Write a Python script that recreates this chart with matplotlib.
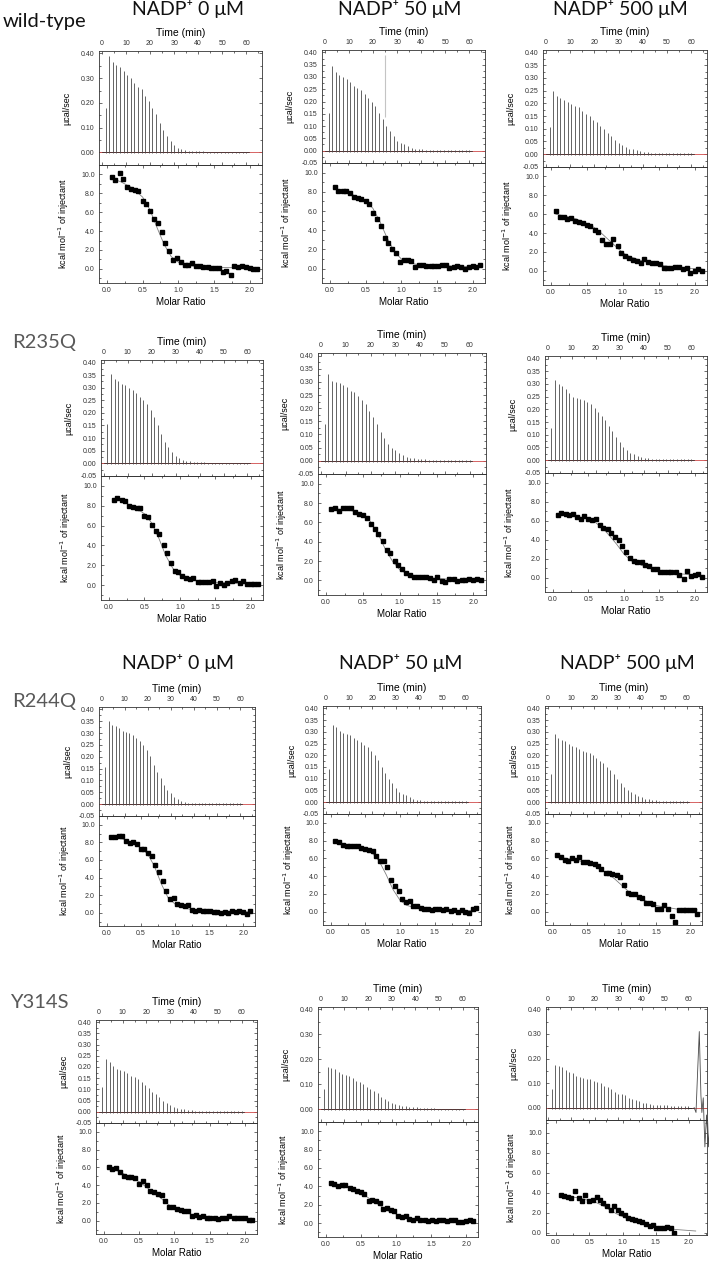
import numpy as np
import matplotlib
matplotlib.use("Agg")
import matplotlib.pyplot as plt
from matplotlib.ticker import MultipleLocator, FormatStrFormatter

plt.rcParams['font.family'] = ['Liberation Sans', 'DejaVu Sans']

W, H = 709, 1263

row_names = ["wild-type", "R235Q", "R244Q", "Y314S"]
col_titles = ["NADP\u207a 0 \u03bcM", "NADP\u207a 50 \u03bcM", "NADP\u207a 500 \u03bcM"]

# injection schedule (min) and molar ratio of each injection after the first
inj_time = np.arange(1, 41) * 1.5
molar_ratio = [0.07, 0.12, 0.18, 0.23, 0.28, 0.34, 0.39, 0.44, 0.50, 0.55,
               0.61, 0.66, 0.71, 0.77, 0.82, 0.87, 0.93, 0.98, 1.03, 1.09,
               1.14, 1.19, 1.25, 1.30, 1.35, 1.41, 1.46, 1.51, 1.57, 1.62,
               1.67, 1.73, 1.78, 1.84, 1.89, 1.94, 2.00, 2.05, 2.10]
fit_ratio = [0.07, 0.2, 0.35, 0.5, 0.6, 0.7, 0.8, 0.9, 1.0, 1.1, 1.25, 1.5, 1.8, 2.1]

# ---- raw heat peaks (ucal/sec)
peaks_wt_0 = [0.18, 0.39, 0.365, 0.355, 0.345, 0.33, 0.315, 0.30, 0.28, 0.265,
              0.255, 0.23, 0.21, 0.18, 0.155, 0.12, 0.09, 0.065, 0.045, 0.03,
              0.02, 0.014, 0.01, 0.008, 0.007, 0.006, 0.005, 0.005, 0.004, 0.004,
              0.004, 0.003, 0.003, 0.003, 0.003, 0.003, 0.003, 0.003, 0.003, 0.003]
peaks_wt_50 = [0.155, 0.345, 0.32, 0.31, 0.30, 0.29, 0.28, 0.265, 0.255, 0.245,
               0.23, 0.215, 0.20, 0.18, 0.155, 0.13, 0.10, 0.08, 0.06, 0.04,
               0.03, 0.025, 0.018, 0.012, 0.008, 0.006, 0.005, 0.004, 0.004, 0.004,
               0.003, 0.003, 0.003, 0.003, 0.003, 0.003, 0.003, 0.003, 0.003, 0.003]
peaks_wt_500 = [0.105, 0.25, 0.23, 0.22, 0.215, 0.205, 0.197, 0.19, 0.185, 0.17,
                0.16, 0.15, 0.135, 0.125, 0.11, 0.10, 0.085, 0.07, 0.055, 0.045,
                0.035, 0.028, 0.022, 0.02, 0.015, 0.012, 0.01, 0.008, 0.006, 0.005,
                0.005, 0.004, 0.004, 0.003, 0.003, 0.003, 0.003, 0.003, 0.003, 0.003]
peaks_r235_0 = [0.155, 0.355, 0.335, 0.325, 0.315, 0.31, 0.30, 0.29, 0.28, 0.265,
                0.25, 0.235, 0.21, 0.185, 0.15, 0.115, 0.085, 0.065, 0.045, 0.03,
                0.02, 0.015, 0.01, 0.008, 0.006, 0.005, 0.004, 0.004, 0.003, 0.003,
                0.003, 0.003, 0.003, 0.003, 0.003, 0.003, 0.003, 0.003, 0.003, 0.003]
peaks_r235_50 = [0.14, 0.33, 0.305, 0.30, 0.295, 0.29, 0.28, 0.265, 0.26, 0.245,
                 0.23, 0.215, 0.19, 0.165, 0.14, 0.11, 0.085, 0.065, 0.05, 0.04,
                 0.03, 0.02, 0.015, 0.012, 0.01, 0.008, 0.006, 0.005, 0.004, 0.004,
                 0.003, 0.003, 0.003, 0.003, 0.003, 0.003, 0.003, 0.003, 0.003, 0.003]
peaks_r235_500 = [0.125, 0.315, 0.30, 0.29, 0.28, 0.265, 0.25, 0.245, 0.24, 0.235,
                  0.23, 0.22, 0.205, 0.19, 0.175, 0.16, 0.135, 0.115, 0.09, 0.07,
                  0.05, 0.04, 0.03, 0.025, 0.018, 0.012, 0.01, 0.008, 0.006, 0.005,
                  0.005, 0.004, 0.004, 0.003, 0.003, 0.003, 0.003, 0.003, 0.003, 0.003]
peaks_r244_0 = [0.155, 0.35, 0.335, 0.33, 0.32, 0.31, 0.305, 0.30, 0.29, 0.28,
                0.265, 0.25, 0.23, 0.205, 0.165, 0.135, 0.11, 0.08, 0.06, 0.045,
                0.03, 0.02, 0.012, 0.008, 0.006, 0.005, 0.004, 0.004, 0.003, 0.003,
                0.003, 0.003, 0.003, 0.003, 0.003, 0.003, 0.003, 0.003, 0.003, 0.003]
peaks_r244_50 = [0.14, 0.33, 0.32, 0.305, 0.295, 0.29, 0.285, 0.275, 0.265, 0.255,
                 0.245, 0.235, 0.22, 0.20, 0.18, 0.15, 0.125, 0.10, 0.08, 0.06,
                 0.045, 0.035, 0.03, 0.02, 0.015, 0.01, 0.008, 0.006, 0.005, 0.004,
                 0.004, 0.003, 0.003, 0.003, 0.003, 0.003, 0.003, 0.003, 0.003, 0.003]
peaks_r244_500 = [0.12, 0.29, 0.275, 0.265, 0.26, 0.25, 0.24, 0.235, 0.225, 0.22,
                  0.215, 0.21, 0.20, 0.19, 0.175, 0.165, 0.15, 0.135, 0.12, 0.10,
                  0.08, 0.065, 0.05, 0.045, 0.035, 0.025, 0.02, 0.015, 0.012, 0.01,
                  0.008, 0.006, 0.005, 0.004, 0.004, 0.003, 0.003, 0.003, 0.003, 0.003]
peaks_y314_0 = [0.11, 0.235, 0.22, 0.205, 0.19, 0.185, 0.18, 0.175, 0.16, 0.155,
                0.145, 0.135, 0.12, 0.105, 0.09, 0.08, 0.065, 0.05, 0.04, 0.03,
                0.022, 0.018, 0.012, 0.01, 0.008, 0.006, 0.005, 0.004, 0.004, 0.003,
                0.003, 0.003, 0.003, 0.003, 0.003, 0.003, 0.003, 0.003, 0.003, 0.003]
peaks_y314_50 = [0.08, 0.17, 0.165, 0.16, 0.15, 0.14, 0.138, 0.135, 0.125, 0.115,
                 0.11, 0.10, 0.09, 0.08, 0.075, 0.065, 0.05, 0.04, 0.035, 0.025,
                 0.02, 0.018, 0.015, 0.012, 0.01, 0.008, 0.008, 0.006, 0.005, 0.005,
                 0.004, 0.004, 0.003, 0.003, 0.003, 0.003, 0.003, 0.003, 0.003, 0.003]
peaks_y314_500 = [0.075, 0.175, 0.17, 0.165, 0.155, 0.145, 0.14, 0.13, 0.125, 0.12,
                  0.115, 0.115, 0.11, 0.105, 0.10, 0.09, 0.085, 0.075, 0.065, 0.055,
                  0.055, 0.05, 0.04, 0.035, 0.03, 0.025, 0.02, 0.02, 0.015, 0.012,
                  0.012, 0.01, 0.01, 0.01, 0.008, 0.008, 0.006, 0.006, 0.005, 0.005]

# ---- integrated heats (kcal/mol of injectant)
heat_wt_0 = [9.7, 9.4, 10.1, 9.5, 8.65, 8.45, 8.3, 8.2, 7.15, 6.9,
             6.15, 5.3, 4.85, 3.9, 2.75, 1.9, 0.9, 1.2, 0.7, 0.4,
             0.45, 0.65, 0.25, 0.35, 0.2, 0.15, 0.1, 0.05, 0.1, -0.3,
             -0.25, -0.6, 0.35, 0.2, 0.3, 0.2, 0.1, 0.0, 0.0]
heat_wt_50 = [8.5, 8.1, 8.1, 8.05, 7.9, 7.5, 7.35, 7.2, 7.0, 6.75,
              5.75, 5.2, 4.4, 3.2, 2.7, 2.0, 1.6, 0.7, 0.9, 0.85,
              0.75, 0.2, 0.35, 0.4, 0.3, 0.3, 0.3, 0.25, 0.4, 0.35,
              0.1, 0.2, 0.25, 0.15, 0.0, 0.2, 0.3, 0.15, 0.35]
heat_wt_500 = [6.35, 5.7, 5.75, 5.5, 5.6, 5.3, 5.15, 5.05, 4.9, 4.75,
               4.35, 4.1, 3.3, 2.85, 2.8, 3.35, 2.6, 1.9, 1.55, 1.4,
               1.15, 1.05, 0.85, 1.3, 0.9, 0.8, 0.8, 0.7, 0.25, 0.35,
               0.35, 0.4, 0.4, 0.15, 0.35, -0.2, -0.05, 0.15, -0.05]
heat_r235_0 = [8.55, 8.75, 8.55, 8.45, 7.95, 7.9, 7.75, 7.75, 7.0, 6.9,
               6.05, 5.5, 5.15, 4.0, 3.2, 2.2, 1.4, 1.3, 0.9, 0.7,
               0.65, 0.75, 0.35, 0.3, 0.3, 0.35, 0.4, -0.05, 0.2, 0.0,
               0.2, 0.45, 0.55, 0.2, 0.4, 0.1, 0.15, 0.15, 0.1]
heat_r235_50 = [7.4, 7.45, 7.2, 7.45, 7.5, 7.5, 7.05, 6.9, 6.75, 6.45,
                5.85, 5.35, 4.75, 4.05, 3.2, 2.85, 2.0, 1.55, 1.2, 0.75,
                0.6, 0.4, 0.4, 0.4, 0.35, 0.25, 0.1, 0.35, -0.05, -0.15,
                0.15, 0.15, -0.05, 0.1, 0.05, 0.2, 0.05, 0.15, 0.05]
heat_r235_500 = [6.6, 6.75, 6.65, 6.55, 6.7, 6.35, 6.2, 6.45, 6.2, 6.1,
                 6.15, 5.55, 5.25, 5.1, 4.65, 4.3, 4.0, 3.3, 2.7, 2.05,
                 1.75, 1.6, 1.6, 1.35, 1.2, 0.95, 0.95, 0.55, 0.55, 0.55,
                 0.6, 0.65, 0.3, -0.15, 0.75, 0.2, 0.3, 0.35, 0.05]
heat_r244_0 = [8.65, 8.6, 8.75, 8.7, 8.15, 7.95, 8.05, 7.85, 7.3, 7.2,
               6.85, 6.4, 5.4, 4.6, 3.65, 2.5, 1.6, 1.65, 1.05, 0.9,
               0.8, 0.85, 0.35, 0.25, 0.35, 0.2, 0.25, 0.2, 0.1, 0.05,
               -0.05, 0.1, 0.0, 0.25, 0.05, 0.15, 0.1, -0.1, 0.15]
heat_r244_50 = [7.95, 7.8, 7.55, 7.45, 7.4, 7.35, 7.35, 7.2, 7.1, 7.0,
                6.85, 6.3, 5.75, 5.7, 5.05, 3.6, 2.85, 2.3, 1.45, 1.1,
                1.25, 0.65, 0.65, 0.45, 0.35, 0.25, 0.2, 0.25, 0.25, 0.2,
                0.3, 0.05, 0.15, 0.0, 0.2, 0.0, -0.1, 0.35, 0.45]
heat_r244_500 = [6.35, 6.2, 5.8, 5.75, 6.1, 5.85, 6.2, 5.55, 5.55, 5.5,
                 5.4, 5.2, 4.85, 4.3, 4.3, 4.2, 4.15, 3.85, 3.05, 2.1,
                 1.95, 2.0, 1.65, 1.5, 1.0, 0.95, 0.85, 0.35, 0.25, 0.8,
                 0.3, -0.45, -1.2, 0.15, 0.2, 0.2, 0.2, 0.2, -0.3]
heat_y314_0 = [6.0, 5.85, 5.95, 5.5, 5.05, 4.95, 4.9, 4.75, 4.15, 4.5,
               4.0, 3.35, 3.2, 3.0, 2.85, 2.2, 1.5, 1.55, 1.35, 1.2,
               1.1, 1.1, 0.55, 0.6, 0.45, 0.55, 0.3, 0.25, 0.3, 0.2,
               0.35, 0.35, 0.55, 0.35, 0.35, 0.3, 0.25, 0.1, 0.1]
heat_y314_50 = [4.4, 4.3, 4.05, 4.1, 4.15, 3.85, 3.75, 3.5, 3.35, 3.2,
                2.45, 2.55, 2.45, 2.15, 1.55, 1.7, 1.4, 1.35, 0.75, 0.7,
                0.8, 0.45, 0.35, 0.55, 0.3, 0.3, 0.25, 0.4, 0.25, 0.35,
                0.3, 0.2, 0.4, 0.35, 0.1, 0.1, 0.2, 0.3, 0.25]
heat_y314_500 = [3.8, 3.65, 3.55, 3.45, 4.15, 3.5, 3.2, 3.8, 3.15, 3.3,
                 3.55, 3.3, 2.95, 2.65, 2.25, 2.65, 2.3, 2.0, 1.75, 1.5,
                 1.4, 1.3, 1.15, 1.1, 0.85, 0.7, 0.75, 0.45, 0.45, 0.45,
                 0.6, 0.45, 0.0]

# ---- fitted curves, read at fit_ratio
fit_wt_0 = [9.6, 9.2, 8.6, 7.6, 6.3, 4.4, 2.6, 1.3, 0.7, 0.4, 0.25, 0.15, 0.12, 0.1]
fit_wt_50 = [8.3, 8.0, 7.6, 7.0, 6.3, 4.9, 3.2, 1.8, 1.0, 0.6, 0.4, 0.3, 0.25, 0.2]
fit_wt_500 = [6.0, 5.8, 5.5, 5.0, 4.6, 4.0, 3.3, 2.6, 1.9, 1.5, 1.1, 0.6, 0.3, 0.2]
fit_r235_0 = [8.7, 8.4, 7.9, 7.2, 6.3, 4.8, 3.0, 1.7, 1.0, 0.6, 0.4, 0.25, 0.2, 0.15]
fit_r235_50 = [7.4, 7.35, 7.2, 6.8, 6.1, 4.9, 3.3, 2.0, 1.1, 0.7, 0.4, 0.2, 0.1, 0.1]
fit_r235_500 = [6.7, 6.6, 6.4, 6.2, 5.8, 5.2, 4.4, 3.5, 2.5, 1.8, 1.3, 0.7, 0.4, 0.25]
fit_r244_0 = [8.7, 8.5, 8.0, 7.4, 6.7, 5.3, 3.3, 1.7, 1.0, 0.6, 0.35, 0.2, 0.1, 0.1]
fit_r244_50 = [7.9, 7.6, 7.3, 7.1, 6.6, 5.7, 4.2, 2.5, 1.3, 0.7, 0.4, 0.2, 0.15, 0.1]
fit_r244_500 = [6.1, 6.0, 5.8, 5.5, 5.2, 4.7, 4.3, 3.7, 3.0, 2.3, 1.6, 0.7, 0.3, 0.2]
fit_y314_0 = [6.0, 5.6, 5.0, 4.4, 3.8, 3.2, 2.6, 1.9, 1.4, 1.0, 0.7, 0.4, 0.3, 0.2]
fit_y314_50 = [4.4, 4.15, 3.8, 3.3, 2.8, 2.3, 1.8, 1.3, 1.0, 0.75, 0.5, 0.3, 0.25, 0.2]
fit_y314_500 = [3.7, 3.6, 3.45, 3.2, 3.0, 2.7, 2.3, 1.9, 1.6, 1.3, 1.0, 0.6, 0.3, 0.15]

# artefacts in the raw traces
spike_wt_50 = (25.0, 0.137, 0.39)          # time, low, high
tail_time_y314_500 = [62.5, 63.3, 64.0, 64.7, 65.4, 65.8, 66.4, 67.1, 67.8, 68.6, 69.2]
tail_val_y314_500 = [0.0, -0.02, 0.15, 0.31, 0.05, -0.02, 0.04, -0.16, -0.03, -0.16, -0.01]

# panel boxes in pixels: x0, x1, y_top, y_split, y_bottom
boxes = [
    [(99, 262, 51, 165, 283), (322, 485, 50, 163, 283), (543, 707, 50, 167, 285)],
    [(101, 263, 360, 476, 600), (318, 486, 353, 474, 595), (545, 707, 356, 473, 592)],
    [(99, 255, 707, 816, 926), (323, 481, 706, 814, 925), (545, 702, 706, 814, 925)],
    [(96, 257, 1020, 1123, 1234), (318, 478, 1007, 1122, 1237), (546, 707, 1007, 1120, 1235)],
]
all_peaks = [[peaks_wt_0, peaks_wt_50, peaks_wt_500],
             [peaks_r235_0, peaks_r235_50, peaks_r235_500],
             [peaks_r244_0, peaks_r244_50, peaks_r244_500],
             [peaks_y314_0, peaks_y314_50, peaks_y314_500]]
all_heat = [[heat_wt_0, heat_wt_50, heat_wt_500],
            [heat_r235_0, heat_r235_50, heat_r235_500],
            [heat_r244_0, heat_r244_50, heat_r244_500],
            [heat_y314_0, heat_y314_50, heat_y314_500]]
all_fit = [[fit_wt_0, fit_wt_50, fit_wt_500],
           [fit_r235_0, fit_r235_50, fit_r235_500],
           [fit_r244_0, fit_r244_50, fit_r244_500],
           [fit_y314_0, fit_y314_50, fit_y314_500]]
top_step = [[0.1, 0.05, 0.05], [0.05, 0.05, 0.05], [0.05, 0.05, 0.05], [0.05, 0.1, 0.1]]

fig = plt.figure(figsize=(W / 100, H / 100), dpi=100)


def px_rect(x0, x1, y0, y1):
    return [x0 / W, 1 - y1 / H, (x1 - x0) / W, (y1 - y0) / H]


def style(ax):
    for s in ax.spines.values():
        s.set_linewidth(0.6)
        s.set_color('#333333')
    ax.tick_params(which='both', direction='in', top=True, right=True,
                   bottom=True, left=True, colors='#333333', labelsize=5, width=0.5)
    ax.tick_params(which='major', length=2.5, pad=3)
    ax.tick_params(which='minor', length=1.3)


for r in range(4):
    for c in range(3):
        x0, x1, yt, ys, yb = boxes[r][c]
        last = (r == 3 and c == 2)
        tmax = 68 if last else 66.5
        tmin = -0.9 if last else -1.2

        # raw thermogram
        axt = fig.add_axes(px_rect(x0, x1, yt, ys))
        axt.set_zorder(2)
        axt.set_facecolor('none')
        axt.axhline(0, color='#d04a4a', lw=0.6)
        axt.plot([0, 61], [0, 0], color='#222222', lw=0.5)
        axt.vlines(inj_time, -0.004, all_peaks[r][c], color='#4a4a4a', lw=0.6)
        if r == 0 and c == 1:
            axt.vlines(spike_wt_50[0], spike_wt_50[1], spike_wt_50[2], color='#c4c4c4', lw=0.8)
        if last:
            axt.plot([60, 62.5], [0, 0], color='#222222', lw=0.5)
            axt.plot(tail_time_y314_500, tail_val_y314_500, color='#4a4a4a', lw=0.6, clip_on=False)
        axt.set_xlim(tmin, tmax)
        axt.set_ylim(-0.0505, 0.41)
        style(axt)
        axt.tick_params(labeltop=True, labelbottom=False)
        axt.xaxis.set_label_position('top')
        axt.set_xlabel('Time (min)', fontsize=7.5, labelpad=3)
        axt.xaxis.set_major_locator(MultipleLocator(10))
        axt.xaxis.set_minor_locator(MultipleLocator(5))
        st = top_step[r][c]
        axt.yaxis.set_major_locator(MultipleLocator(st))
        axt.yaxis.set_minor_locator(MultipleLocator(st / 2))
        axt.yaxis.set_major_formatter(FormatStrFormatter('%.2f'))
        axt.set_ylabel('\u00b5cal/sec', fontsize=6.5)
        axt.yaxis.set_label_coords(-0.17, 0.5)

        # integrated isotherm
        axb = fig.add_axes(px_rect(x0, x1, ys, yb))
        axb.set_facecolor('none')
        heat = all_heat[r][c]
        axb.plot(fit_ratio, all_fit[r][c], color='#808080', lw=0.6)
        axb.plot(molar_ratio[:len(heat)], heat, 's', color='black', ms=2.8)
        if last:
            axb.set_xlim(-0.15, 2.27)
            axb.set_ylim(-0.25, 11.25)
        else:
            axb.set_xlim(-0.11, 2.17)
            axb.set_ylim(-1.5, 11.0)
        style(axb)
        axb.xaxis.set_major_locator(MultipleLocator(0.5))
        axb.xaxis.set_minor_locator(MultipleLocator(0.25))
        axb.xaxis.set_major_formatter(FormatStrFormatter('%.1f'))
        axb.yaxis.set_major_locator(MultipleLocator(2))
        axb.yaxis.set_minor_locator(MultipleLocator(1))
        axb.yaxis.set_major_formatter(FormatStrFormatter('%.1f'))
        axb.set_xlabel('Molar Ratio', fontsize=7, labelpad=2)
        axb.set_ylabel('kcal mol$^{-1}$ of injectant', fontsize=6.5)
        axb.yaxis.set_label_coords(-0.17, 0.5)

# row labels
row_pos = [(3, 27), (12, 348), (12, 707), (10, 1008)]
row_col = ['#111111', '#595959', '#595959', '#595959']
for name, (x, y), col in zip(row_names, row_pos, row_col):
    fig.text(x / W, 1 - y / H, name, ha='left', va='baseline', fontsize=14.5,
             color=col, family=['Lato', 'DejaVu Sans'])

# concentration titles on rows 1 and 3
title_x = [[188, 400, 620], [178, 401, 627]]
title_y = [15, 669]
for k in range(2):
    for c in range(3):
        fig.text(title_x[k][c] / W, 1 - title_y[k] / H, col_titles[c], ha='center',
                 va='baseline', fontsize=14, color='#111111', family=['Lato', 'DejaVu Sans'])

fig.savefig('out.png', dpi=100)
